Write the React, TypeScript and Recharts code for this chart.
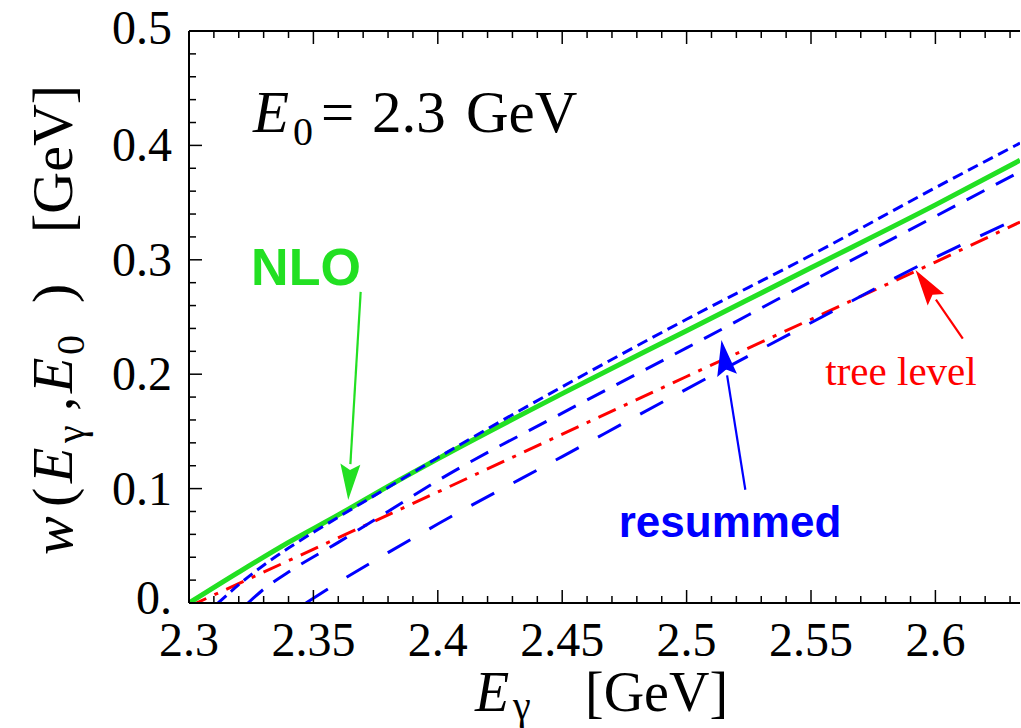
import { LineChart, Line, XAxis, YAxis, ReferenceLine } from 'recharts';

const SERIF = '"Liberation Serif", "Times New Roman", serif';
const SANS = '"Liberation Sans", Arial, sans-serif';

const GREEN = '#22e022';
const BLUE = '#0000ff';
const RED = '#ff0000';

// NLO (solid green)
const nloE = [2.3, 2.32, 2.34, 2.36, 2.38, 2.4, 2.45, 2.5, 2.55, 2.6, 2.634];
const nloW = [0, 0.027, 0.053, 0.077, 0.102, 0.126, 0.183, 0.238, 0.293, 0.348, 0.387];

// resummed, three blue dashed curves
const shortE = [2.3117, 2.32, 2.33, 2.34, 2.36, 2.38, 2.4, 2.45, 2.5, 2.55, 2.6, 2.634];
const shortW = [0, 0.016, 0.033, 0.048, 0.075, 0.101, 0.127, 0.189, 0.248, 0.304, 0.363, 0.402];

const medE = [2.3237, 2.33, 2.34, 2.36, 2.38, 2.4, 2.45, 2.5, 2.55, 2.6, 2.634];
const medW = [0, 0.012, 0.027, 0.053, 0.08, 0.107, 0.166, 0.223, 0.281, 0.338, 0.377];

const longE = [2.347, 2.36, 2.38, 2.4, 2.45, 2.5, 2.55, 2.6, 2.634];
const longW = [0, 0.018, 0.044, 0.069, 0.128, 0.187, 0.245, 0.302, 0.337];

// tree level (red dash-dot)
const treeE = [2.3, 2.4, 2.5, 2.6, 2.634];
const treeW = [-0.003, 0.097, 0.198, 0.298, 0.333];

const xTicks = [
  2.3, 2.31, 2.32, 2.33, 2.34, 2.35, 2.36, 2.37, 2.38, 2.39, 2.4, 2.41, 2.42, 2.43, 2.44, 2.45, 2.46,
  2.47, 2.48, 2.49, 2.5, 2.51, 2.52, 2.53, 2.54, 2.55, 2.56, 2.57, 2.58, 2.59, 2.6, 2.61, 2.62, 2.63,
];
const xMajor = [2.3, 2.35, 2.4, 2.45, 2.5, 2.55, 2.6];
const xLabels = ['2.3', '2.35', '2.4', '2.45', '2.5', '2.55', '2.6'];

const yTicks = [
  0, 0.02, 0.04, 0.06, 0.08, 0.1, 0.12, 0.14, 0.16, 0.18, 0.2, 0.22, 0.24, 0.26, 0.28, 0.3, 0.32, 0.34,
  0.36, 0.38, 0.4, 0.42, 0.44, 0.46, 0.48, 0.5,
];
const yMajor = [0, 0.1, 0.2, 0.3, 0.4, 0.5];
const yLabels = ['0.', '0.1', '0.2', '0.3', '0.4', '0.5'];

// annotation arrows: [tail, tip] in data units
const nloArrow = [{ x: 2.369, y: 0.272 }, { x: 2.364, y: 0.09 }];
const resArrow = [{ x: 2.5236, y: 0.099 }, { x: 2.514, y: 0.23 }];
const treeArrow = [{ x: 2.611, y: 0.231 }, { x: 2.592, y: 0.291 }];

const pts = (e: number[], w: number[]) => e.map((x, i) => ({ e: x, w: w[i] }));

const labelOf = (v: number, major: number[], labels: string[]) => {
  const i = major.findIndex((m) => Math.abs(m - v) < 1e-6);
  return i >= 0 ? labels[i] : null;
};

function BottomTick({ x, y, payload }: any) {
  const label = labelOf(payload.value, xMajor, xLabels);
  return (
    <g>
      <line x1={x} x2={x} y1={y} y2={y - (label ? 13 : 7)} stroke="#000" strokeWidth={1.5} />
      {label && (
        <text x={x} y={y + 53} textAnchor="middle" fontSize={48} fontFamily={SERIF} fill="#000">
          {label}
        </text>
      )}
    </g>
  );
}

function TopTick({ x, y, payload }: any) {
  const label = labelOf(payload.value, xMajor, xLabels);
  return <line x1={x} x2={x} y1={y} y2={y + (label ? 13 : 7)} stroke="#000" strokeWidth={1.5} />;
}

function LeftTick({ x, y, payload }: any) {
  const v = payload.value;
  const label = labelOf(v, yMajor, yLabels);
  // top label sits a little higher, the zero label a little higher too (as in the original)
  const dy = v > 0.49 ? 13 : v < 0.01 ? 11 : 16;
  return (
    <g>
      <line x1={x} x2={x + (label ? 13 : 7)} y1={y} y2={y} stroke="#000" strokeWidth={1.5} />
      {label && (
        <text x={x - 17} y={y + dy} textAnchor="end" fontSize={48} fontFamily={SERIF} fill="#000">
          {label}
        </text>
      )}
    </g>
  );
}

const arrowShape = (color: string) => (props: any) => {
  const { x1, y1, x2, y2 } = props;
  const dx = x2 - x1;
  const dy = y2 - y1;
  const len = Math.sqrt(dx * dx + dy * dy) || 1;
  const ux = dx / len;
  const uy = dy / len;
  const L = 36;
  const H = 10;
  const bx = x2 - ux * L;
  const by = y2 - uy * L;
  return (
    <g>
      <line x1={x1} y1={y1} x2={bx} y2={by} stroke={color} strokeWidth={2.2} />
      <polygon
        points={`${x2},${y2} ${bx - uy * H},${by + ux * H} ${bx + ux * 6},${by + uy * 6} ${bx + uy * H},${by - ux * H}`}
        fill={color}
      />
    </g>
  );
};

export default function App() {
  return (
    <div style={{ position: 'absolute', left: 0, top: 0, width: 1021, height: 728, background: '#fff' }}>
      <LineChart width={1021} height={728} margin={{ top: 30, right: 1, bottom: 124, left: 188 }}>
        <XAxis
          dataKey="e"
          type="number"
          domain={[2.3, 2.634]}
          allowDataOverflow
          ticks={xTicks}
          interval={0}
          height={1}
          tickSize={0}
          tickMargin={0}
          tickLine={false}
          axisLine={{ stroke: '#000', strokeWidth: 2 }}
          tick={<BottomTick />}
        />
        <XAxis
          xAxisId="top"
          orientation="top"
          dataKey="e"
          type="number"
          domain={[2.3, 2.634]}
          allowDataOverflow
          ticks={xTicks}
          interval={0}
          height={1}
          tickSize={0}
          tickMargin={0}
          tickLine={false}
          axisLine={{ stroke: '#000', strokeWidth: 2 }}
          tick={<TopTick />}
        />
        <YAxis
          type="number"
          domain={[0, 0.5]}
          allowDataOverflow
          ticks={yTicks}
          interval={0}
          width={1}
          tickSize={0}
          tickMargin={0}
          tickLine={false}
          axisLine={{ stroke: '#000', strokeWidth: 2 }}
          tick={<LeftTick />}
        />
        <Line data={pts(treeE, treeW)} dataKey="w" type="linear" stroke={RED} strokeWidth={3} strokeDasharray="19 9 4 9" dot={false} isAnimationActive={false} />
        <Line data={pts(longE, longW)} dataKey="w" type="monotone" stroke={BLUE} strokeWidth={3} strokeDasharray="26 22" dot={false} isAnimationActive={false} />
        <Line data={pts(medE, medW)} dataKey="w" type="monotone" stroke={BLUE} strokeWidth={3} strokeDasharray="20 13" dot={false} isAnimationActive={false} />
        <Line data={pts(nloE, nloW)} dataKey="w" type="monotone" stroke={GREEN} strokeWidth={5} dot={false} isAnimationActive={false} />
        <Line data={pts(shortE, shortW)} dataKey="w" type="monotone" stroke={BLUE} strokeWidth={3} strokeDasharray="11 6" dot={false} isAnimationActive={false} />
        <ReferenceLine segment={nloArrow} ifOverflow="visible" shape={arrowShape(GREEN)} />
        <ReferenceLine segment={resArrow} ifOverflow="visible" shape={arrowShape(BLUE)} />
        <ReferenceLine segment={treeArrow} ifOverflow="visible" shape={arrowShape(RED)} />
      </LineChart>
      <svg width={1021} height={728} style={{ position: 'absolute', left: 0, top: 0, pointerEvents: 'none' }}>
        <text y={132} fontFamily={SERIF} fontSize={59} fill="#000">
          <tspan x={253} fontStyle="italic">E</tspan>
          <tspan x={293} dy={13} fontSize={40}>0</tspan>
          <tspan x={321} dy={-13}>=</tspan>
          <tspan x={372}>2.3</tspan>
          <tspan x={466}>GeV</tspan>
        </text>
        <text transform="translate(72,555) rotate(-90)" fontFamily={SERIF} fontSize={58} fill="#000">
          <tspan x={0} fontStyle="italic">w</tspan>
          <tspan x={48}>(</tspan>
          <tspan x={72} fontStyle="italic">E</tspan>
          <tspan x={112} dy={12} fontSize={40}>γ</tspan>
          <tspan x={144} dy={-12}>,</tspan>
          <tspan x={162} fontStyle="italic">E</tspan>
          <tspan x={200} dy={12} fontSize={40}>0</tspan>
          <tspan x={252} dy={-12}>)</tspan>
          <tspan x={322}>[GeV]</tspan>
        </text>
        <text y={711} fontFamily={SERIF} fontSize={56} fill="#000">
          <tspan x={475} fontStyle="italic">E</tspan>
          <tspan x={513} dy={8} fontSize={40}>γ</tspan>
          <tspan x={585} dy={-8}>[GeV]</tspan>
        </text>
        <text x={306} y={285} textAnchor="middle" fontFamily={SANS} fontWeight="bold" fontSize={52} fill={GREEN}>
          NLO
        </text>
        <text x={730} y={537} textAnchor="middle" fontFamily={SANS} fontWeight="bold" fontSize={44} fill={BLUE}>
          resummed
        </text>
        <text x={901} y={385} textAnchor="middle" fontFamily={SERIF} fontSize={41} fill={RED}>
          tree level
        </text>
      </svg>
    </div>
  );
}
